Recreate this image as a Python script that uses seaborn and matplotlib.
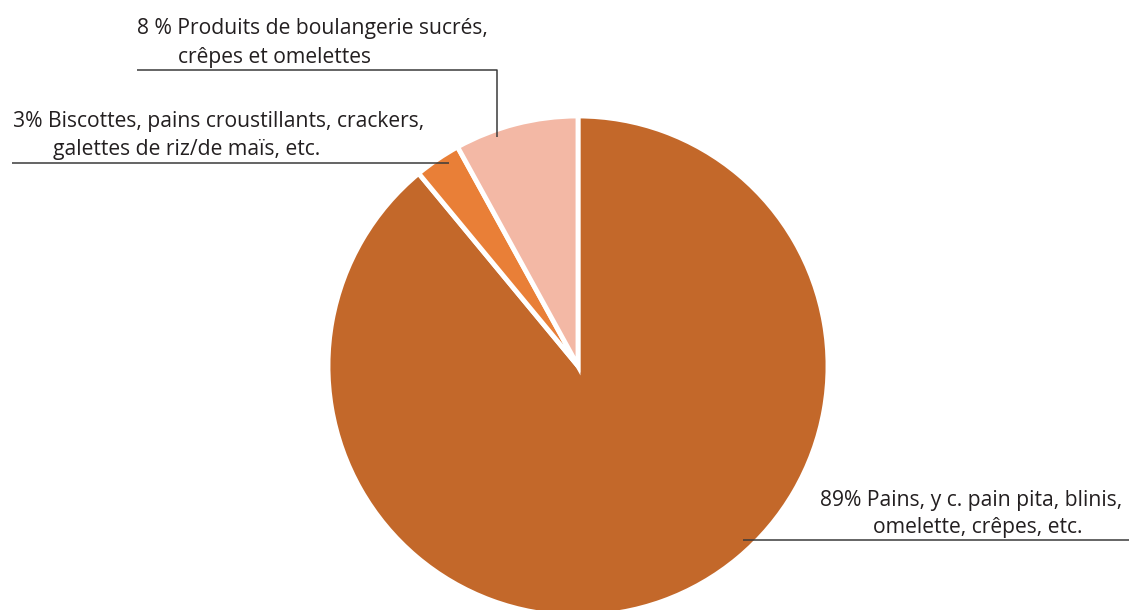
import matplotlib
matplotlib.use("Agg")
import matplotlib.pyplot as plt
import seaborn as sns

# Share of bakery product groups
categories = [
    "Pains, y c. pain pita, blinis,\nomelette, crêpes, etc.",
    "Biscottes, pains croustillants, crackers,\ngalettes de riz/de maïs, etc.",
    "Produits de boulangerie sucrés,\ncrêpes et omelettes",
]
values = [89, 3, 8]
pct_sep = ["", "", " "]
colors = ["#C3682A", "#E97F37", "#F3B8A5"]

sns.set_theme(style="white")
plt.rcParams["font.family"] = ["Open Sans", "DejaVu Sans"]

W, H = 1129, 610
fig = plt.figure(figsize=(W / 100, H / 100), dpi=100)
ax = fig.add_axes([0, 0, 1, 1])

cx, cy, r = 578, H - 366, 250
ax.pie(values, colors=colors, startangle=90, counterclock=False,
       center=(cx, cy), radius=r, frame=True,
       wedgeprops=dict(edgecolor="white", linewidth=3.5))
ax.set_xlim(0, W)
ax.set_ylim(0, H)
ax.set_aspect("equal")
ax.axis("off")

txt = "#231F20"
line_c = "#3a3a3a"
fs = 15.2

# label text: (first line x, second line x, first baseline, second baseline), rows from top
layout = [
    (820, 873, 506, 533),
    (13, 53, 127, 155),
    (137, 178, 34, 63),
]
for val, sep, cat, (x1, x2, y1, y2) in zip(values, pct_sep, categories, layout):
    l1, l2 = cat.split("\n")
    ax.text(x1, H - y1, f"{val}{sep}% {l1}", ha="left", va="baseline",
            fontsize=fs, color=txt)
    ax.text(x2, H - y2, l2, ha="left", va="baseline", fontsize=fs, color=txt)

# leader lines
lw = 1.1
ax.plot([743, 1129], [H - 540, H - 540], color=line_c, lw=lw, solid_capstyle="butt")
ax.plot([12, 449], [H - 163, H - 163], color=line_c, lw=lw, solid_capstyle="butt")
ax.plot([137, 497, 497], [H - 70, H - 70, H - 137], color=line_c, lw=lw,
        solid_capstyle="butt")

fig.savefig("out.png", dpi=100, facecolor="white")
